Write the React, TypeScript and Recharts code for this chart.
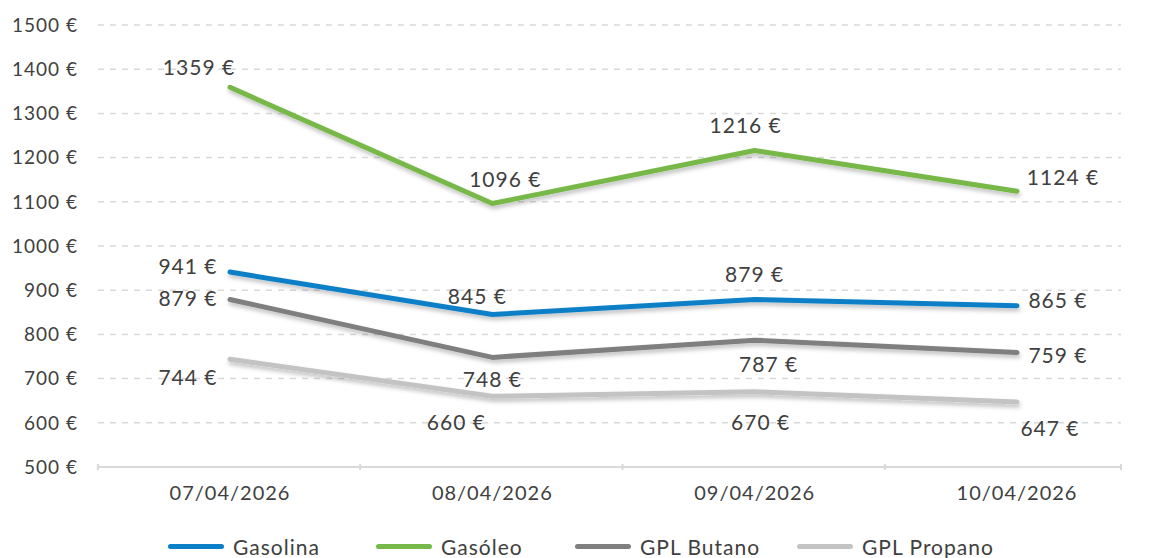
import { CartesianGrid, LabelList, Legend, Line, LineChart, XAxis, YAxis } from "recharts";

const DATES = ["07/04/2026", "08/04/2026", "09/04/2026", "10/04/2026"];
const GASOLINA = [941, 845, 879, 865];
const GASOLEO = [1359, 1096, 1216, 1124];
const GPL_BUTANO = [879, 748, 787, 759];
const GPL_PROPANO = [744, 660, 670, 647];
const Y_TICKS = [500, 600, 700, 800, 900, 1000, 1100, 1200, 1300, 1400, 1500];

const FONT = "Lato, 'Open Sans', sans-serif";
const TEXT = "#404040";

const data = DATES.map((date, i) => ({
  date,
  gasolina: GASOLINA[i],
  gasoleo: GASOLEO[i],
  butano: GPL_BUTANO[i],
  propano: GPL_PROPANO[i],
}));

// label offsets from each point (dx, dy), legend item widths
const series = [
  { key: "gasolina", name: "Gasolina", color: "#0b7fc7", legendW: 208, offsets: [[-42, -7], [-15, -19], [0, -26], [41, -6]] },
  { key: "gasoleo", name: "Gasóleo", color: "#77b84a", legendW: 199, offsets: [[-31, -21], [13, -25], [-9, -26], [46, -15]] },
  { key: "butano", name: "GPL Butano", color: "#7f7f7f", legendW: 222, offsets: [[-42, -2], [0, 21], [14, 23], [41, 2]] },
  { key: "propano", name: "GPL Propano", color: "#c3c3c3", legendW: 220, offsets: [[-42, 17], [-36, 25], [6, 30], [33, 25]] },
];

const STEP = 262.3;

function DateTick(props: any) {
  const { x, y, payload, index } = props;
  const axisY = y - 11;
  return (
    <g>
      <line x1={x - STEP / 2 - 1} x2={x - STEP / 2 - 1} y1={axisY} y2={axisY + 6} stroke="#d9d9d9" strokeWidth={2} />
      {index === DATES.length - 1 && (
        <line x1={x + 104} x2={x + 104} y1={axisY} y2={axisY + 6} stroke="#d9d9d9" strokeWidth={2} />
      )}
      <text x={x} y={y + 25} textAnchor="middle" fill={TEXT} fontSize={20} letterSpacing={1} fontFamily={FONT}>
        {payload.value}
      </text>
    </g>
  );
}

function LegendRow() {
  return (
    <div style={{ display: "flex", paddingLeft: 168, alignItems: "center", fontFamily: FONT, fontSize: 21, letterSpacing: 1, color: TEXT }}>
      {series.map((s) => (
        <div key={s.key} style={{ display: "flex", alignItems: "center", gap: 9, width: s.legendW }}>
          <span style={{ display: "inline-block", width: 56, height: 5, borderRadius: 3, background: s.color }} />
          <span>{s.name}</span>
        </div>
      ))}
    </div>
  );
}

export default function App() {
  return (
    <div style={{ position: "absolute", left: 0, top: 0, background: "#fff" }}>
      <LineChart width={1149} height={558} data={data} margin={{ top: 25, right: 28, left: 0, bottom: 0 }}>
        <defs>
          <filter id="lineShadow" x="-5%" y="-20%" width="110%" height="160%">
            <feDropShadow dx="1" dy="3" stdDeviation="2" floodColor="#000" floodOpacity="0.25" />
          </filter>
        </defs>
        <CartesianGrid vertical={false} stroke="#d9d9d9" strokeDasharray="6 6" strokeWidth={1.5} />
        <XAxis
          dataKey="date"
          padding={{ left: 132, right: 104 }}
          axisLine={{ stroke: "#d9d9d9", strokeWidth: 2 }}
          tickLine={false}
          height={67}
          tick={<DateTick />}
          interval={0}
        />
        <YAxis
          domain={[500, 1500]}
          ticks={Y_TICKS}
          width={98}
          axisLine={false}
          tickLine={false}
          tickSize={0}
          tickMargin={20}
          tickFormatter={(v) => `${v} €`}
          tick={{ fill: TEXT, fontSize: 19, fontFamily: FONT, letterSpacing: 1 }}
        />
        <Legend verticalAlign="bottom" height={24} content={() => <LegendRow />} />
        {series.map((s) => (
          <Line
            key={s.key}
            dataKey={s.key}
            name={s.name}
            stroke={s.color}
            strokeWidth={5}
            strokeLinecap="round"
            strokeLinejoin="round"
            dot={false}
            activeDot={false}
            filter="url(#lineShadow)"
            isAnimationActive={false}
          >
            <LabelList
              dataKey={s.key}
              content={(p: any) => {
                const off = s.offsets[p.index] || [0, -20];
                return (
                  <text
                    x={p.x + off[0]}
                    y={p.y + off[1]}
                    textAnchor="middle"
                    dominantBaseline="central"
                    fill={TEXT}
                    fontSize={21}
                    letterSpacing={1}
                    fontFamily={FONT}
                  >
                    {`${p.value} €`}
                  </text>
                );
              }}
            />
          </Line>
        ))}
      </LineChart>
    </div>
  );
}
